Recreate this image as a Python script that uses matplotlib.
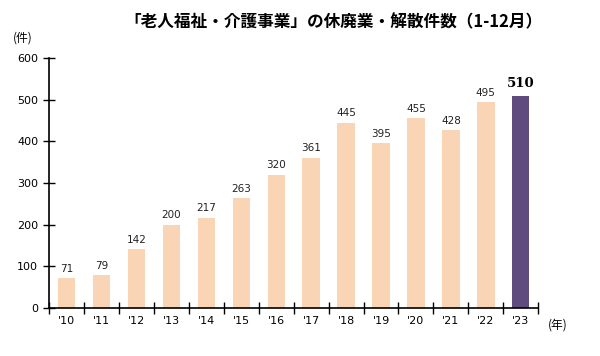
import matplotlib
matplotlib.use("Agg")
import matplotlib.pyplot as plt
import numpy as np

plt.rcParams['font.family'] = ['DejaVu Sans', 'Noto Sans CJK JP']

years = ["'10", "'11", "'12", "'13", "'14", "'15", "'16", "'17", "'18", "'19", "'20", "'21", "'22", "'23"]
values = [71, 79, 142, 200, 217, 263, 320, 361, 445, 395, 455, 428, 495, 510]
title = "「老人福祉・介護事業」の休廃業・解散件数（1-12月）"

fig = plt.figure(figsize=(6, 3.56), dpi=100)
ax = fig.add_axes([0.082, 0.135, 0.815, 0.702])

x = np.arange(len(years))
colors = ['#F9D5B5'] * (len(years) - 1) + ['#5F4B7E']
ax.bar(x, values, width=0.5, color=colors)

for i, v in enumerate(values):
    if i == len(values) - 1:
        ax.text(i, v + 14, str(v), ha='center', va='bottom', fontsize=9.5,
                fontweight='bold', family='DejaVu Serif')
    else:
        ax.text(i, v + 10, str(v), ha='center', va='bottom', fontsize=7.5, color='#222222')

ax.set_xlim(-0.5, len(years) - 0.5)
ax.set_ylim(0, 600)
ax.set_yticks(range(0, 601, 100))
ax.set_xticks(np.arange(-0.5, len(years), 1.0))
ax.set_xticklabels([])
ax.set_xticks(x, minor=True)
ax.set_xticklabels(years, minor=True)
ax.tick_params(axis='x', which='minor', length=0, labelsize=8, pad=6)
ax.tick_params(axis='x', which='major', direction='inout', length=8, width=1)
ax.tick_params(axis='y', direction='inout', length=8, width=1, labelsize=8, pad=4)

for s in ['top', 'right']:
    ax.spines[s].set_visible(False)
for s in ['left', 'bottom']:
    ax.spines[s].set_linewidth(1.2)

fig.text(0.022, 0.893, '(件)', ha='left', va='center', fontsize=8.5,
         family=['Noto Sans CJK JP'])
fig.text(0.913, 0.088, '(年)', ha='left', va='center', fontsize=8.5,
         family=['Noto Sans CJK JP'])
fig.text(0.555, 0.938, title, ha='center', va='center', fontsize=12,
         fontweight='bold', family=['Noto Sans CJK JP'])

fig.savefig('out.png', dpi=100)
